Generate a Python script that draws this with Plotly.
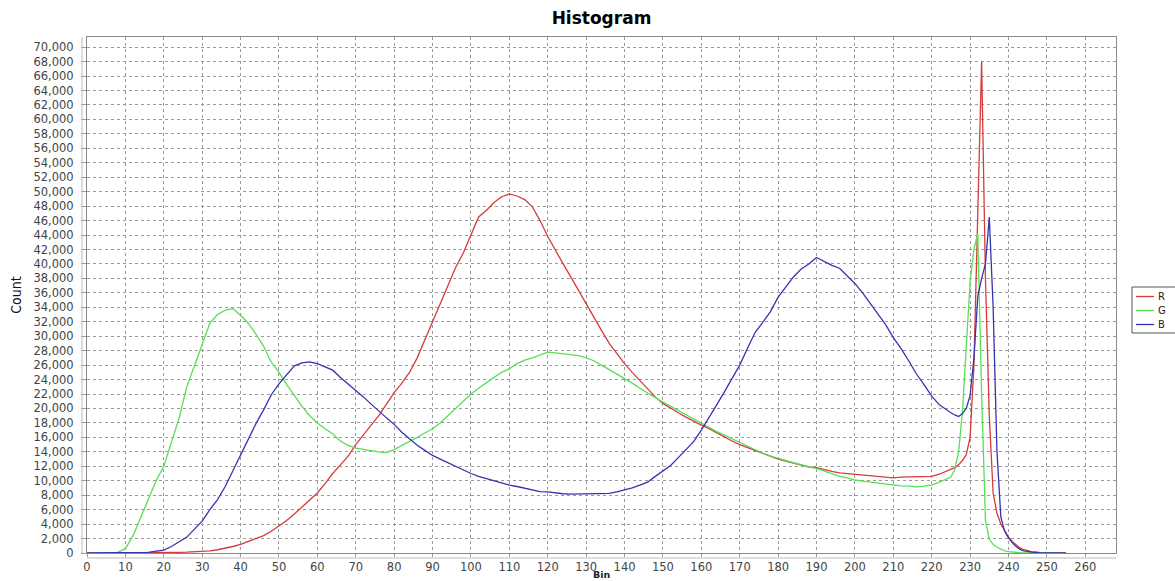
import plotly.graph_objects as go

bins = list(range(0, 225, 2)) + list(range(225, 245)) + [246, 248, 250, 252, 254, 255]

red = [0, 0, 0, 0, 0, 0, 0, 0, 0, 20, 50, 70, 100, 130, 160, 200, 300, 450, 650, 900,
       1200, 1600, 2000, 2400, 3000, 3700, 4500, 5400, 6400, 7300, 8300, 9600, 11000, 12200, 13400,
       15000, 16400, 17700, 19000, 20600, 22200, 23500, 25000, 27000, 29400, 32000, 34500, 37000,
       39500, 41500, 44000, 46500, 47400, 48500, 49300, 49700, 49400, 48900, 47900, 46000, 43800,
       41800, 40000, 38200, 36300, 34600, 32600, 30800, 29000, 27600, 26200, 25000, 23900, 22800,
       21600, 20700, 20000, 19400, 18800, 18200, 17700, 17200, 16600, 16000, 15500, 15000, 14600,
       14100, 13700, 13300, 13000, 12700, 12400, 12200, 11900, 11800, 11500, 11300, 11100, 11000,
       10900, 10800, 10700, 10600, 10500, 10400, 10500, 10500, 10500, 10500, 10600, 10900, 11300,
       11500, 11800, 12200, 12800, 13600, 16000, 26000, 47000, 68000, 38000, 19000, 8300, 5500,
       4000, 3000, 2200, 1600, 1100, 700, 450,
       200, 80, 30, 10, 0, 0]

green = [0, 0, 0, 0, 100, 600, 2400, 4900, 7500, 10000, 12000, 15200, 18700, 23000, 26000,
         29000, 31800, 33000, 33600, 33800, 32900, 31800, 30300, 28600, 26400, 25000, 23300, 21800,
         20300, 19000, 18000, 17200, 16500, 15500, 14900, 14500, 14300, 14100, 14000, 13900, 14300,
         14900, 15400, 16000, 16600, 17200, 18000, 19000, 20000, 21000, 22000, 22800, 23600, 24300,
         25000, 25500, 26200, 26700, 27000, 27400, 27800, 27700, 27600, 27500, 27300, 27000, 26600,
         26000, 25400, 24800, 24200, 23500, 22800, 22100, 21500, 20900, 20300, 19700, 19100, 18500,
         17900, 17300, 16800, 16300, 15800, 15300, 14800, 14200, 13800, 13400, 13100, 12800, 12400,
         12100, 11900, 11700, 11300, 10900, 10600, 10400, 10100, 9950, 9800, 9700, 9550, 9400, 9300,
         9250, 9150, 9250, 9400, 9800, 10200,
         10500, 11500, 14000, 19500, 28500, 37500, 42000, 44200, 22000, 4500, 1900, 1200, 800,
         500, 300, 200, 120, 80, 40, 20,
         0, 0, 0, 0, 0, 0]

blue = [0, 0, 0, 0, 0, 0, 0, 50, 100, 250, 400, 900, 1500, 2200, 3300, 4400, 6000, 7400, 9200,
        11400, 13400, 15600, 17900, 19800, 21900, 23400, 24700, 25900, 26300, 26450, 26200, 25800,
        25300, 24300, 23400, 22600, 21600, 20600, 19600, 18700, 17800, 16700, 15800, 14900, 14200,
        13500, 13000, 12500, 11900, 11400, 11000, 10600, 10300, 9900, 9600, 9400, 9200, 9000, 8750,
        8500, 8450, 8300, 8200, 8150, 8150, 8150, 8200, 8200, 8250, 8450, 8700, 9000, 9400, 9800,
        10600, 11400, 12100, 13200, 14300, 15400, 17000, 18700, 20500, 22300, 24200, 26000, 28300,
        30500, 31900, 33400, 35400, 36800, 38200, 39300, 40000, 40900, 40300, 39800, 39400, 38400,
        37300, 36000, 34500, 33000, 31600, 29800, 28300, 26600, 24800, 23300, 21700, 20500, 19700,
        19400, 19100, 18900, 19300, 20000, 21800, 27000, 35500, 38000, 40000, 46500, 34000, 14000,
        5000, 3000, 2100, 1400, 900, 500, 300,
        120, 50, 20, 0, 0, 0]

series_names = ["R", "G", "B"]
series_colors = ["#D83A3A", "#55E055", "#3434B0"]
x_ticks = list(range(0, 261, 10))
y_ticks = list(range(0, 70001, 2000))

W, H = 1175, 581
L, R, T, B = 87, 59, 37, 28
PW, PH = W - L - R, H - T - B


def px_x(p):
    return (p - L) / PW


def px_y(p):
    return (H - B - p) / PH


fig = go.Figure()
for name, vals, col in zip(series_names, [red, green, blue], series_colors):
    fig.add_trace(go.Scatter(x=bins, y=vals, mode="lines", name=name,
                             line=dict(color=col, width=1.3), showlegend=False))

# offset axis lines, as in the original chart style
shapes = [
    dict(type="line", xref="paper", yref="paper", x0=px_x(82), x1=px_x(82),
         y0=px_y(553), y1=px_y(37), line=dict(color="#bbbbbb", width=1)),
    dict(type="line", xref="paper", yref="paper", x0=px_x(87), x1=px_x(1116),
         y0=px_y(558), y1=px_y(558), line=dict(color="#bbbbbb", width=1)),
]
# hand-built compact legend
shapes.append(dict(type="rect", xref="paper", yref="paper",
                   x0=px_x(1132), x1=px_x(1180), y0=px_y(333), y1=px_y(287),
                   line=dict(color="#555555", width=1), fillcolor="white", layer="above"))
annotations = []
for i, (name, col) in enumerate(zip(series_names, series_colors)):
    yy = 296.5 + i * 14
    shapes.append(dict(type="line", xref="paper", yref="paper",
                       x0=px_x(1136), x1=px_x(1154), y0=px_y(yy), y1=px_y(yy),
                       line=dict(color=col, width=1.3), layer="above"))
    annotations.append(dict(text=name, xref="paper", yref="paper", x=px_x(1156), y=px_y(yy),
                            xanchor="left", yanchor="middle", showarrow=False,
                            font=dict(family="DejaVu Sans", size=10, color="#222222")))

# x-axis title, placed just under the tick labels
annotations.append(dict(text="<b>Bin</b>", xref="paper", yref="paper", x=0.5, y=px_y(581),
                        xanchor="center", yanchor="bottom", showarrow=False, borderpad=0,
                        font=dict(family="DejaVu Sans", size=9.5, color="#222222")))

axis_font = dict(family="DejaVu Sans", size=11.5, color="#444444")
fig.update_layout(
    width=W, height=H,
    margin=dict(l=L, r=R, t=T, b=B, autoexpand=False),
    paper_bgcolor="white", plot_bgcolor="white",
    title=dict(text="<b>Histogram</b>", x=(L + W - R) / 2 / W, xanchor="center",
               y=1 - 18 / H, yanchor="middle",
               font=dict(family="DejaVu Sans", size=17, color="#000000")),
    showlegend=False,
    shapes=shapes,
    annotations=annotations,
)
fig.update_xaxes(range=[0, 268], tickvals=x_ticks, ticktext=[str(v) for v in x_ticks],
                 showgrid=True, gridcolor="#9a9a9a", griddash="dot", gridwidth=1,
                 showline=True, linecolor="#888888", mirror=True, linewidth=1,
                 ticks="outside", ticklen=3, tickcolor="#999999", ticklabelstandoff=0,
                 tickfont=axis_font, zeroline=False, automargin=False)
fig.update_yaxes(range=[0, 71400], tickvals=y_ticks, ticktext=[f"{v:,}" for v in y_ticks],
                 showgrid=True, gridcolor="#9a9a9a", griddash="dot", gridwidth=1,
                 showline=True, linecolor="#888888", mirror=True, linewidth=1,
                 ticks="outside", ticklen=5, tickcolor="#999999", ticklabelstandoff=5,
                 tickfont=axis_font, zeroline=False, automargin=False,
                 title=dict(text="Count", standoff=8,
                            font=dict(family="Liberation Sans Narrow, DejaVu Sans Condensed, DejaVu Sans", size=14, color="#111111")))

fig.write_html("out.html", config={"displayModeBar": False},
               post_script="document.body.style.margin='0';document.body.style.overflow='hidden';")
